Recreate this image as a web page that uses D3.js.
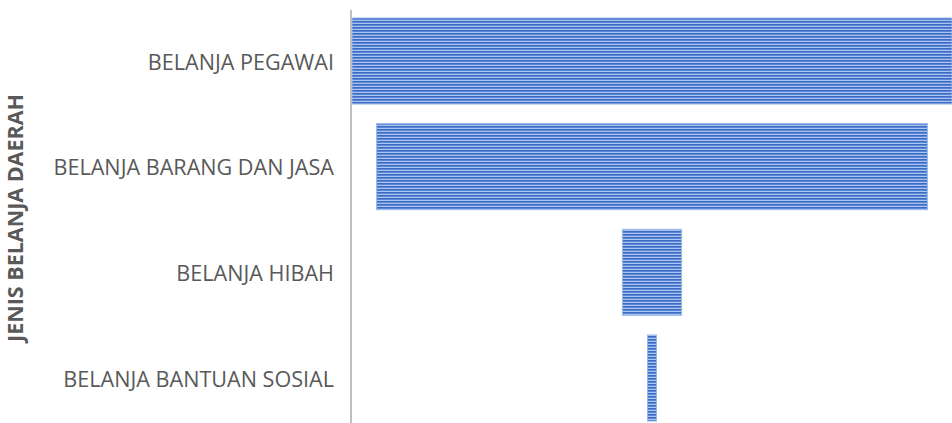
<!DOCTYPE html>
<html>
<head>
<meta charset="utf-8">
<script src="https://d3js.org/d3.v7.min.js"></script>
<style>
  body { margin: 0; background: #fff; }
  text { font-family: 'Open Sans', sans-serif; fill: #595959; }
  .label { font-size: 21.6px; }
  .title { font-size: 21.5px; font-weight: bold; }
</style>
</head>
<body>
<script>
  // jenis belanja dan nilai (perkiraan dari gambar)
  var categories = ['BELANJA PEGAWAI', 'BELANJA BARANG DAN JASA', 'BELANJA HIBAH', 'BELANJA BANTUAN SOSIAL'];
  var values = [598, 549, 59, 9];
  var axisTitle = 'JENIS BELANJA DAERAH';

  var width = 952, height = 423;
  var left = 352;

  var svg = d3.select('body').append('svg')
    .attr('width', width)
    .attr('height', height);

  // striped fill like the excel pattern
  var defs = svg.append('defs');
  var pat = defs.append('pattern')
    .attr('id', 'stripes')
    .attr('patternUnits', 'userSpaceOnUse')
    .attr('width', 8).attr('height', 3);
  pat.append('rect').attr('width', 8).attr('height', 3).attr('fill', '#abc3ee');
  pat.append('rect').attr('y', 0).attr('width', 8).attr('height', 1).attr('fill', '#3d6bc2');
  pat.append('rect').attr('y', 1).attr('width', 8).attr('height', 1).attr('fill', '#5a86d6');

  var y = d3.scaleBand()
    .domain(categories)
    .range([18, 421])
    .paddingInner(0.186)
    .paddingOuter(0);

  var x = d3.scaleLinear()
    .domain([0, d3.max(values)])
    .range([0, width - left]);

  var cx = left + (width - left) / 2;

  svg.selectAll('rect.bar')
    .data(categories)
    .enter().append('rect')
    .attr('class', 'bar')
    .attr('x', function(d, i) { return cx - x(values[i]) / 2; })
    .attr('y', function(d) { return y(d); })
    .attr('width', function(d, i) { return x(values[i]); })
    .attr('height', y.bandwidth())
    .attr('fill', 'url(#stripes)')
    .attr('stroke', '#9ab8ec')
    .attr('stroke-width', 1);

  // category axis line
  svg.append('line')
    .attr('x1', left - 1).attr('x2', left - 1)
    .attr('y1', 10).attr('y2', height)
    .attr('stroke', '#bfbfbf')
    .attr('stroke-width', 2);

  svg.selectAll('text.label')
    .data(categories)
    .enter().append('text')
    .attr('class', 'label')
    .attr('x', 334)
    .attr('y', function(d) { return y(d) + y.bandwidth() / 2 + 1; })
    .attr('dy', '0.35em')
    .attr('text-anchor', 'end')
    .text(function(d) { return d; });

  svg.append('text')
    .attr('class', 'title')
    .attr('transform', 'translate(23,218) rotate(-90)')
    .attr('text-anchor', 'middle')
    .text(axisTitle);
</script>
</body>
</html>
